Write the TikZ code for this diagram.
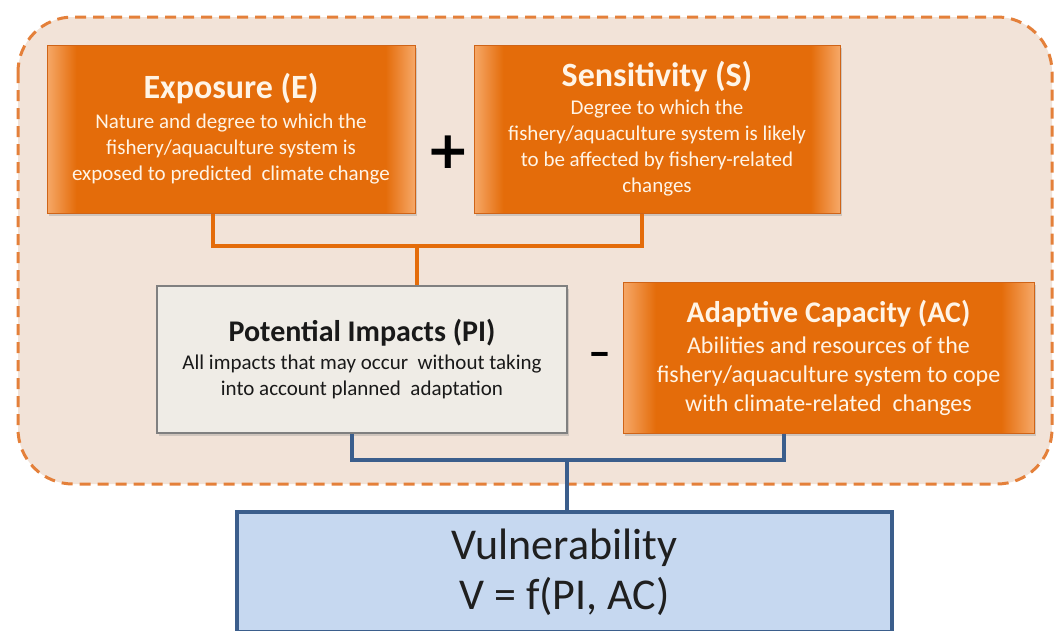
\documentclass[tikz,border=0pt]{standalone}
\usepackage{fontspec}
\setmainfont{Carlito}
\newfontfamily\signfont{DejaVu Sans}
\usetikzlibrary{shadows}

\definecolor{peach}{HTML}{F2E3D8}
\definecolor{dashorange}{HTML}{E4803A}
\definecolor{glowmid}{HTML}{E46C0A}
\definecolor{glowedge}{HTML}{F6A868}
\definecolor{boxedge}{HTML}{CF6418}
\definecolor{paper}{HTML}{FFF4E6}
\definecolor{greyfill}{HTML}{EFECE6}
\definecolor{greyedge}{HTML}{808080}
\definecolor{linkblue}{HTML}{3B5E8C}
\definecolor{vulnfill}{HTML}{C6D8F0}

% lighter rim on the left and right of the orange boxes
\pgfdeclarehorizontalshading{orangeglow}{100bp}{color(0bp)=(glowedge); color(25bp)=(glowedge); color(29bp)=(glowmid); color(71bp)=(glowmid); color(75bp)=(glowedge); color(100bp)=(glowedge)}

\newcommand{\boxtitle}[2][30]{{\fontsize{#1}{#1}\selectfont\bfseries #2}}

\begin{document}
\begin{tikzpicture}[
                x = 1pt, y = -1pt, % one unit is one pixel, y runs down
                line join = miter,
                font = \fontsize{21}{26}\selectfont
            ]

            \tikzstyle{orangebox}=[
            shading = orangeglow,
            draw = boxedge, line width = 1pt,
            text = paper, align = center,
            drop shadow = {opacity = 0.3, shadow xshift = 2pt, shadow yshift = -3pt}
            ]
            \tikzstyle{greybox}=[
            fill = greyfill, draw = greyedge, line width = 1.2pt,
            text = black!90, align = center,
            drop shadow = {opacity = 0.3, shadow xshift = 2pt, shadow yshift = -3pt}
            ]
            \tikzstyle{vulnbox}=[
            fill = vulnfill, draw = linkblue, line width = 4pt,
            text = black!88, align = center,
            font = \fontsize{44}{50}\selectfont
            ]
            \tikzstyle{sign}=[font = \signfont\bfseries\fontsize{52}{52}\selectfont]
            \tikzstyle{orangelink}=[draw = glowmid, line width = 4pt]
            \tikzstyle{bluelink}=[draw = linkblue, line width = 4pt]

            \useasboundingbox (0,0) rectangle (1055,630);

            % dashed frame round the four factors
            \draw[fill = peach, draw = dashorange, line width = 3pt, dash pattern = on 11pt off 7pt,
                rounded corners = 55pt] (18,17) rectangle (1052,484);

            \node[orangebox, minimum width = 368pt, minimum height = 168pt] (E) at (231,129)
                {\boxtitle[34]{Exposure (E)}\\[4pt]
                 Nature and degree to which the\\
                 fishery/aquaculture system is\\
                 exposed to predicted\ \ climate change};
            \node[orangebox, minimum width = 366pt, minimum height = 168pt] (S) at (657,129)
                {\boxtitle[34]{Sensitivity (S)}\\[2pt]
                 Degree to which the\\
                 fishery/aquaculture system is likely\\
                 to be affected by fishery-related\\
                 changes};
            \node[greybox, minimum width = 410pt, minimum height = 147pt] (PI) at (362,359.5)
                {\boxtitle{Potential Impacts (PI)}\\[2pt]
                 All impacts that may occur\ \ without taking\\
                 into account planned\ \ adaptation};
            \node[orangebox, minimum width = 411pt, minimum height = 151pt,
                font = \fontsize{24}{29}\selectfont] (AC) at (828.5,357.5)
                {\boxtitle{Adaptive Capacity (AC)}\\[2pt]
                 Abilities and resources of the\\
                 fishery/aquaculture system to cope\\
                 with climate-related\ \ changes};
            \node[vulnbox, minimum width = 655pt, minimum height = 120pt] (V) at (564.5,572)
                {Vulnerability\\ V = f(PI, AC)};

            \node[sign] (plus) at (448,152) {+};
            \node[sign, font = \bfseries\fontsize{46}{46}\selectfont] (minus) at (600,360) {–};

            % E + S give PI
            \coordinate (eo) at (213,246);
            \coordinate (so) at (642,246);
            \coordinate (mo) at (417,246);
            \draw[orangelink] (E.south -| eo) -- (eo) -- (so) -- (S.south -| so);
            \draw[orangelink] (mo) -- (PI.north -| mo);

            % PI - AC give V
            \coordinate (pb) at (352,460);
            \coordinate (ab) at (784,460);
            \coordinate (vb) at (567,460);
            \draw[bluelink] (PI.south -| pb) -- (pb) -- (ab) -- (AC.south -| ab);
            \draw[bluelink] (vb) -- (V.north -| vb);
        \end{tikzpicture}
\end{document}
